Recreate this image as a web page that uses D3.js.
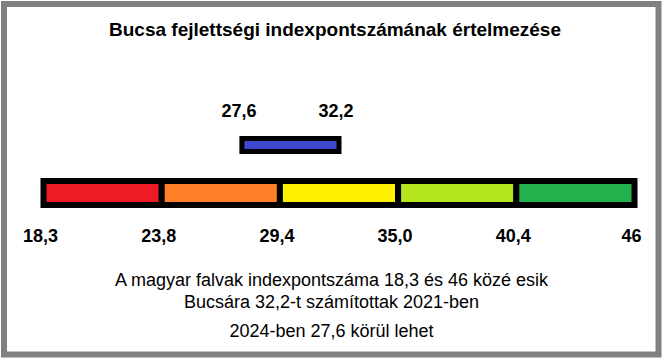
<!DOCTYPE html>
<html>
<head>
<meta charset="utf-8">
<script src="https://cdn.jsdelivr.net/npm/d3@7"></script>
<style>
  html, body { margin: 0; padding: 0; background: #fff; }
  text { font-family: "Liberation Sans", Arial, sans-serif; }
</style>
</head>
<body>
<svg id="chart" width="665" height="362"></svg>
<script>
const title = "Bucsa fejlettségi indexpontszámának értelmezése";
const tickValues = [18.3, 23.8, 29.4, 35.0, 40.4, 46];
const tickLabels = ["18,3", "23,8", "29,4", "35,0", "40,4", "46"];
const segmentColors = ["#ED1C24", "#FF7F27", "#FFF200", "#B5E61D", "#22B14C"];
const rangeValues = [27.6, 32.2];
const rangeLabels = ["27,6", "32,2"];
const notes = [
  "A magyar falvak indexpontszáma 18,3 és 46 közé esik",
  "Bucsára 32,2-t számítottak 2021-ben",
  "2024-ben 27,6 körül lehet"
];

const svg = d3.select("#chart");

// frame
svg.append("rect")
  .attr("x", 4).attr("y", 4).attr("width", 654.5).attr("height", 350.5)
  .attr("fill", "#fff").attr("stroke", "#808080").attr("stroke-width", 6);

// piecewise scale: equal spacing between tick values
const x0 = 43.5, x1 = 634.5;
const step = (x1 - x0) / (tickValues.length - 1);
const x = d3.scaleLinear()
  .domain(tickValues)
  .range(tickValues.map((d, i) => x0 + i * step));

// title
svg.append("text")
  .attr("x", 335).attr("y", 36)
  .attr("text-anchor", "middle")
  .attr("font-size", 19).attr("font-weight", "bold")
  .attr("fill", "#000")
  .text(title);

// colored segments
const segs = segmentColors.map((c, i) => ({ from: tickValues[i], to: tickValues[i + 1], color: c }));
svg.append("g").selectAll("rect").data(segs).join("rect")
  .attr("x", d => x(d.from))
  .attr("y", 181)
  .attr("width", d => x(d.to) - x(d.from))
  .attr("height", 24)
  .attr("fill", d => d.color)
  .attr("stroke", "#000")
  .attr("stroke-width", 6);

// tick labels
svg.append("g").selectAll("text").data(tickValues).join("text")
  .attr("x", d => x(d) - 3)
  .attr("y", 241.5)
  .attr("text-anchor", "middle")
  .attr("font-size", 18).attr("font-weight", "bold")
  .attr("fill", "#000")
  .text((d, i) => tickLabels[i]);

// Bucsa range bar
svg.append("rect")
  .attr("x", x(rangeValues[0]))
  .attr("y", 138.5)
  .attr("width", x(rangeValues[1]) - x(rangeValues[0]))
  .attr("height", 13)
  .attr("fill", "#3F48CC")
  .attr("stroke", "#000")
  .attr("stroke-width", 5);

svg.append("g").selectAll("text").data(rangeValues).join("text")
  .attr("x", d => x(d) - 3)
  .attr("y", 117)
  .attr("text-anchor", "middle")
  .attr("font-size", 18).attr("font-weight", "bold")
  .attr("fill", "#000")
  .text((d, i) => rangeLabels[i]);

// notes
const noteY = [286, 307.5, 337];
svg.append("g").selectAll("text").data(notes).join("text")
  .attr("x", 331.5)
  .attr("y", (d, i) => noteY[i])
  .attr("text-anchor", "middle")
  .attr("font-size", 18)
  .attr("fill", "#000")
  .text(d => d);
</script>
</body>
</html>
